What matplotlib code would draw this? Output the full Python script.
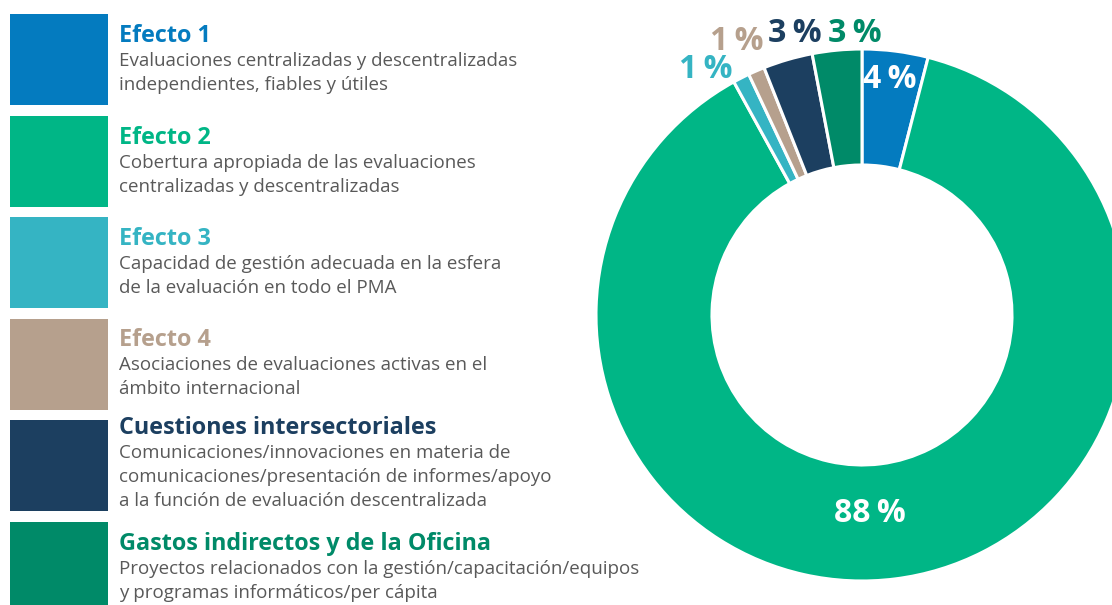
import matplotlib.pyplot as plt
from matplotlib.patches import Rectangle

plt.rcParams['font.family'] = ['Open Sans', 'DejaVu Sans']

# datos
categorias = ['Efecto 1', 'Efecto 2', 'Efecto 3', 'Efecto 4',
              'Cuestiones intersectoriales', 'Gastos indirectos y de la Oficina']
descripciones = [
    'Evaluaciones centralizadas y descentralizadas\nindependientes, fiables y útiles',
    'Cobertura apropiada de las evaluaciones\ncentralizadas y descentralizadas',
    'Capacidad de gestión adecuada en la esfera\nde la evaluación en todo el PMA',
    'Asociaciones de evaluaciones activas en el\námbito internacional',
    'Comunicaciones/innovaciones en materia de\ncomunicaciones/presentación de informes/apoyo\na la función de evaluación descentralizada',
    'Proyectos relacionados con la gestión/capacitación/equipos\ny programas informáticos/per cápita',
]
porcentajes = [4, 88, 1, 1, 3, 3]
colores = ['#047bbf', '#00b686', '#35b4c3', '#b6a08d', '#1c3f60', '#008a68']

W, H = 1112, 605
fig = plt.figure(figsize=(W / 100, H / 100), dpi=100)
ax = fig.add_axes([0, 0, 1, 1])

# dona
cx, cy, R, r = 862, H - 315, 266, 150
wedges, _ = ax.pie(porcentajes, colors=colores, startangle=90, counterclock=False,
                   center=(cx, cy), radius=R,
                   wedgeprops=dict(width=R - r, edgecolor='white', linewidth=2.2))

# etiquetas de la dona (posición en píxeles; None = color del sector)
pos_etiquetas = [(890, 80, 'white'), (870, 513, 'white'), (706, 70, None),
                 (737, 42, None), (795, 33, None), (855, 33, None)]
for p, col, (x, y, c) in zip(porcentajes, colores, pos_etiquetas):
    ax.text(x, H - y, f'{p}\u2009%', color=c or col,
            fontsize=23, fontweight='bold', ha='center', va='center')

# leyenda
for i, (cat, desc, col) in enumerate(zip(categorias, descripciones, colores)):
    top = 14 + i * 101.5
    lineas = desc.split('\n')
    top -= 14 * (len(lineas) - 2)  # bloques de 3 líneas suben
    ax.add_patch(Rectangle((10, H - (14 + i * 101.5) - 91), 98, 91, color=col, lw=0))
    ax.text(119, H - (top + 28), cat, color=col, fontsize=16.8, fontweight='bold',
            va='baseline', ha='left')
    for k, linea in enumerate(lineas):
        ax.text(119, H - (top + 52 + k * 24), linea, color='#595959', fontsize=13.5,
                va='baseline', ha='left')

ax.set_xlim(0, W)
ax.set_ylim(0, H)
ax.set_aspect('equal')
ax.axis('off')

fig.savefig('out.png', dpi=100)
